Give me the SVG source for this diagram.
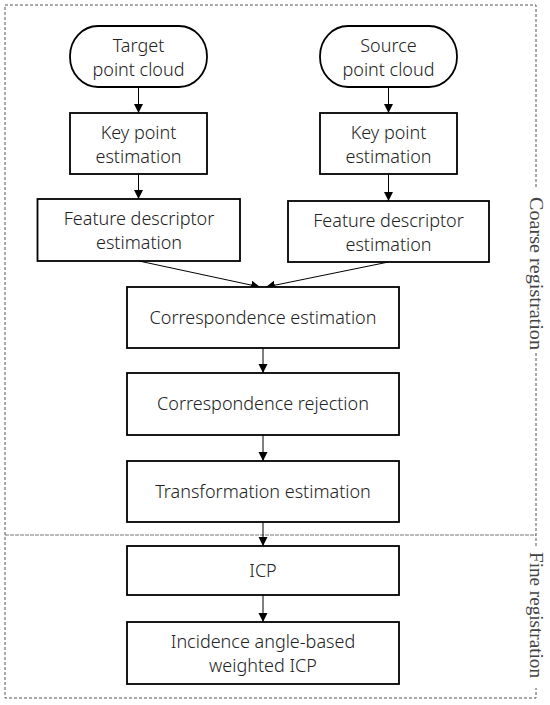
<svg xmlns="http://www.w3.org/2000/svg" width="550" height="705" viewBox="0 0 550 705">
<defs>
<marker id="ah" markerWidth="10" markerHeight="10" refX="9" refY="5" orient="auto" markerUnits="userSpaceOnUse">
<path d="M0,0.5 L9,5 L0,9.5 Z" fill="#000"/>
</marker>
<style>
.box{fill:#fff;stroke:#000;stroke-width:1.8}
.t{font-family:"Noto Sans","Open Sans",sans-serif;font-size:18px;font-weight:300;fill:#222;text-anchor:middle}
.side{font-family:"Liberation Serif","Times New Roman",serif;font-size:18px;fill:#444;text-anchor:middle}
.dash{fill:none;stroke:#555;stroke-width:1;stroke-dasharray:3,2}
.con{stroke:#000;stroke-width:1;fill:none}
</style>
</defs>
<rect width="550" height="705" fill="#fff"/>
<g id="frame">
<path class="dash" d="M536,187 V5 H5 V698 H536 V688"/>
<path class="dash" d="M536,353 V548"/>
<line x1="5" y1="535" x2="536" y2="535" stroke="#777" stroke-width="1.2" stroke-dasharray="4,1"/>
<text class="side" transform="translate(530,273.5) rotate(90)" textLength="153" lengthAdjust="spacingAndGlyphs">Coarse registration</text>
<text class="side" transform="translate(530,615) rotate(90)" textLength="126" lengthAdjust="spacingAndGlyphs">Fine registration</text>
</g>
<g id="connectors">
<line class="con" x1="138.5" y1="87" x2="138.5" y2="113" marker-end="url(#ah)"/>
<line class="con" x1="388.5" y1="87" x2="388.5" y2="113" marker-end="url(#ah)"/>
<line class="con" x1="138.5" y1="174" x2="138.5" y2="199" marker-end="url(#ah)"/>
<line class="con" x1="388.5" y1="174" x2="388.5" y2="201" marker-end="url(#ah)"/>
<line class="con" x1="139" y1="261" x2="260" y2="287" marker-end="url(#ah)"/>
<line class="con" x1="388.5" y1="262" x2="266" y2="287" marker-end="url(#ah)"/>
<line class="con" x1="263" y1="348" x2="263" y2="373" marker-end="url(#ah)"/>
<line class="con" x1="263" y1="435" x2="263" y2="461" marker-end="url(#ah)"/>
<line class="con" x1="263" y1="522" x2="263" y2="546" marker-end="url(#ah)"/>
<line class="con" x1="263" y1="595" x2="263" y2="622" marker-end="url(#ah)"/>
</g>
<g id="target">
<rect class="box" x="70" y="26" width="137" height="61" rx="28" ry="30"/>
<text class="t" x="138.5" y="52">Target</text>
<text class="t" x="138.5" y="76">point cloud</text>
</g>
<g id="source">
<rect class="box" x="320" y="26" width="137" height="61" rx="28" ry="30"/>
<text class="t" x="388.5" y="52">Source</text>
<text class="t" x="388.5" y="76">point cloud</text>
</g>
<g id="keyL">
<rect class="box" x="70" y="113" width="137" height="61"/>
<text class="t" x="138.5" y="139">Key point</text>
<text class="t" x="138.5" y="163">estimation</text>
</g>
<g id="keyR">
<rect class="box" x="320" y="113" width="137" height="61"/>
<text class="t" x="388.5" y="139">Key point</text>
<text class="t" x="388.5" y="163">estimation</text>
</g>
<g id="featL">
<rect class="box" x="37.5" y="199" width="202.5" height="62"/>
<text class="t" x="139" y="225">Feature descriptor</text>
<text class="t" x="139" y="249">estimation</text>
</g>
<g id="featR">
<rect class="box" x="288" y="201" width="201" height="61"/>
<text class="t" x="388.5" y="227">Feature descriptor</text>
<text class="t" x="388.5" y="251">estimation</text>
</g>
<g id="corrEst">
<rect class="box" x="127" y="287" width="272" height="61"/>
<text class="t" x="263" y="324">Correspondence estimation</text>
</g>
<g id="corrRej">
<rect class="box" x="127" y="373" width="272" height="62"/>
<text class="t" x="263" y="410">Correspondence rejection</text>
</g>
<g id="transEst">
<rect class="box" x="127" y="461" width="272" height="61"/>
<text class="t" x="263" y="498">Transformation estimation</text>
</g>
<g id="icp">
<rect class="box" x="127" y="546" width="272" height="49"/>
<text class="t" x="263" y="577">ICP</text>
</g>
<g id="weightedIcp">
<rect class="box" x="127" y="622" width="272" height="62"/>
<text class="t" x="263" y="648">Incidence angle-based</text>
<text class="t" x="263" y="672">weighted ICP</text>
</g>
</svg>
